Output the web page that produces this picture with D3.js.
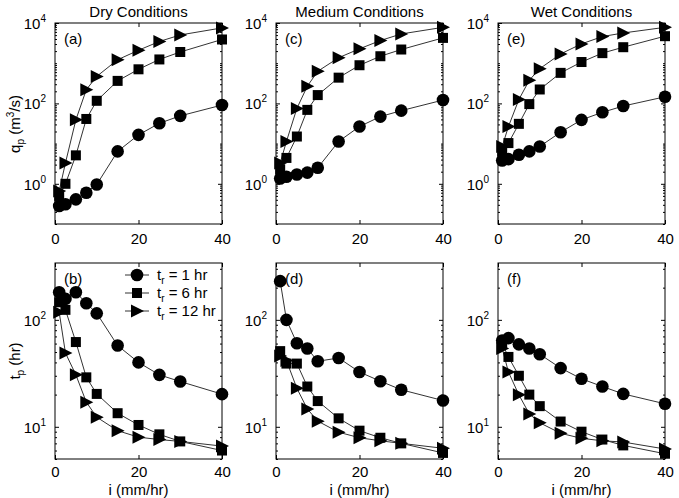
<!DOCTYPE html>
<html><head><meta charset="utf-8">
<script src="https://cdn.jsdelivr.net/npm/d3@7"></script>
<style>
body{margin:0;background:#fff;}
svg{display:block;font-family:"Liberation Sans",Arial,sans-serif;}
</style></head>
<body><svg id="c" width="679" height="498"></svg>
<script>
// ---------- data ----------
const iVals = [1, 2.5, 5, 7.5, 10, 15, 20, 25, 30, 40];
const conditions = ["Dry Conditions", "Medium Conditions", "Wet Conditions"];
const seriesNames = ["t_r = 1 hr", "t_r = 6 hr", "t_r = 12 hr"];
const xTicks = [0, 20, 40];
const qpTicks = [1, 100, 10000];
const tpTicks = [10, 100];
const topLetters = ["(a)", "(c)", "(e)"];
const botLetters = ["(b)", "(d)", "(f)"];

// peak discharge q_p (m3/s)
const qpDry1   = [0.28, 0.31, 0.41, 0.6, 0.96, 6.4, 16.5, 32, 49, 91];
const qpDry6   = [0.5, 1.0, 5.1, 41, 116, 363, 705, 1240, 1900, 3890];
const qpDry12  = [0.66, 3.3, 39, 220, 470, 1220, 2100, 3470, 5040, 7550];
const qpMed1   = [1.35, 1.5, 1.7, 1.9, 2.5, 11.3, 26.6, 47, 66, 121];
const qpMed6   = [2.3, 4.4, 15, 69, 161, 437, 890, 1490, 2190, 4260];
const qpMed12  = [3.3, 11.3, 75, 268, 630, 1370, 2280, 3660, 5340, 7800];
const qpWet1   = [3.8, 4.1, 5.3, 6.4, 8.5, 19.2, 39, 60, 86, 146];
const qpWet6   = [6.4, 10.3, 31, 96, 222, 575, 1070, 1780, 2500, 4700];
const qpWet12  = [8.5, 26.6, 125, 378, 730, 1700, 3020, 4600, 5650, 7800];

// time to peak t_p (hr)
const tpDry1   = [181, 157, 181, 143, 115, 57.5, 40, 30.6, 26.5, 20.2];
const tpDry6   = [146, 124, 62, 29, 20.3, 13.4, 10.4, 8.5, 7.3, 6.0];
const tpDry12  = [118, 49, 30.6, 17, 12.3, 9.2, 8.0, 7.6, 7.3, 6.6];
const tpMed1   = [230, 100, 60.5, 54, 41, 44, 32.5, 26.7, 22.2, 17.6];
const tpMed6   = [51, 39, 39, 23.8, 17.4, 12.0, 9.2, 7.9, 7.0, 5.7];
const tpMed12  = [46, 41.6, 22.9, 14.7, 11.3, 8.9, 7.9, 7.4, 7.0, 6.3];
const tpWet1   = [64, 67.5, 59, 54, 47.7, 35.4, 28.1, 23.8, 20.3, 16.4];
const tpWet6   = [60, 45, 30, 20, 15.6, 11.2, 9.0, 7.6, 6.7, 5.6];
const tpWet12  = [54, 32.5, 19.9, 13.2, 10.9, 8.7, 7.8, 7.4, 7.2, 6.2];

const qpSets = [[qpDry1, qpDry6, qpDry12], [qpMed1, qpMed6, qpMed12], [qpWet1, qpWet6, qpWet12]];
const tpSets = [[tpDry1, tpDry6, tpDry12], [tpMed1, tpMed6, tpMed12], [tpWet1, tpWet6, tpWet12]];

// ---------- layout ----------
const svg = d3.select("#c");
const lefts = [55, 276, 498];
const pw = 167;
const topRow = {y0: 23, y1: 224};
const botRow = {y0: 263, y1: 459};
const FONT = 15;

const markerTypes = ["circle", "square", "triangle"];
function drawMarker(g, type, x, y) {
  if (type === "circle") {
    g.append("circle").attr("cx", x).attr("cy", y).attr("r", 6.3).attr("fill", "#000");
  } else if (type === "square") {
    g.append("rect").attr("x", x - 5).attr("y", y - 5).attr("width", 10).attr("height", 10).attr("fill", "#000");
  } else {
    g.append("path").attr("d", `M${x-6},${y-6.5}L${x+7},${y}L${x-6},${y+6.5}Z`).attr("fill", "#000");
  }
}

function powLabel(sel, exp) {
  sel.text(null);
  sel.append("tspan").text("10");
  sel.append("tspan").attr("dy", -7).attr("font-size", 10).text(exp);
}

function panel(col, row, sets, yDomain, yTicks, letter) {
  const x0 = lefts[col], x1 = x0 + pw;
  const r = row === 0 ? topRow : botRow;
  const x = d3.scaleLinear().domain([0, 40]).range([x0, x1]);
  const y = d3.scaleLog().domain(yDomain).range([r.y1, r.y0]);
  const g = svg.append("g");

  g.append("rect").attr("x", x0).attr("y", r.y0).attr("width", pw).attr("height", r.y1 - r.y0)
    .attr("fill", "none").attr("stroke", "#000").attr("stroke-width", 1);

  const xAxB = d3.axisBottom(x).tickValues(xTicks).tickSize(-4).tickPadding(row === 0 ? 9 : 7).tickFormat(d3.format("d"));
  const gx = g.append("g").attr("transform", `translate(0,${r.y1})`).call(xAxB);
  gx.select(".domain").remove();
  gx.selectAll("text").attr("font-size", FONT).attr("font-family", "Liberation Sans, Arial, sans-serif").attr("fill", "#000");
  const xAxT = d3.axisTop(x).tickValues(xTicks).tickSize(-4).tickFormat("");
  const gxt = g.append("g").attr("transform", `translate(0,${r.y0})`).call(xAxT);
  gxt.select(".domain").remove();

  const minors = y.ticks().filter(v => yTicks.indexOf(v) < 0);
  const yMinL = d3.axisLeft(y).tickValues(minors).tickSize(-2).tickFormat("");
  const gml = g.append("g").attr("transform", `translate(${x0},0)`).call(yMinL);
  gml.select(".domain").remove();
  const yMinR = d3.axisRight(y).tickValues(minors).tickSize(-2).tickFormat("");
  const gmr = g.append("g").attr("transform", `translate(${x1},0)`).call(yMinR);
  gmr.select(".domain").remove();

  const yAxL = d3.axisLeft(y).tickValues(yTicks).tickSize(-4).tickPadding(10).tickFormat("");
  const gy = g.append("g").attr("transform", `translate(${x0},0)`).call(yAxL);
  gy.select(".domain").remove();
  gy.selectAll(".tick").each(function(d) {
    const t = d3.select(this).append("text").attr("x", -9).attr("dy", "0.35em")
      .attr("text-anchor", "end").attr("font-size", FONT).attr("fill", "#000");
    powLabel(t, Math.round(Math.log10(d)));
  });
  const yAxR = d3.axisRight(y).tickValues(yTicks).tickSize(-4).tickFormat("");
  const gyr = g.append("g").attr("transform", `translate(${x1},0)`).call(yAxR);
  gyr.select(".domain").remove();
  g.selectAll(".tick line").attr("stroke", "#000");

  const line = d3.line().x((d, k) => x(iVals[k])).y(d => y(d));
  sets.forEach((vals) => {
    g.append("path").datum(vals).attr("d", line).attr("fill", "none")
      .attr("stroke", "#333").attr("stroke-width", 1);
  });
  sets.forEach((vals, s) => {
    vals.forEach((v, k) => drawMarker(g, markerTypes[s], x(iVals[k]), y(v)));
  });

  g.append("text").attr("x", x0 + 9).attr("y", r.y0 + 21).attr("font-size", FONT).attr("fill", "#000").text(letter);
  return {x, y};
}

for (let c = 0; c < 3; c++) {
  panel(c, 0, qpSets[c], [0.1, 10000], qpTicks, topLetters[c]);
  panel(c, 1, tpSets[c], [5, 340], tpTicks, botLetters[c]);
  svg.append("text").attr("x", lefts[c] + pw / 2).attr("y", 17).attr("text-anchor", "middle")
    .attr("font-size", FONT).attr("fill", "#000").text(conditions[c]);
  svg.append("text").attr("x", lefts[c] + pw / 2).attr("y", 495).attr("text-anchor", "middle")
    .attr("font-size", FONT).attr("fill", "#000").text("i (mm/hr)");
}

const qt = svg.append("text").attr("transform", "translate(20,124) rotate(-90)").attr("text-anchor", "middle")
  .attr("font-size", FONT).attr("fill", "#000");
qt.append("tspan").text("q");
qt.append("tspan").attr("dy", 4).attr("font-size", 10).text("p");
qt.append("tspan").attr("dy", -4).text(" (m");
qt.append("tspan").attr("dy", -6).attr("font-size", 10).text("3");
qt.append("tspan").attr("dy", 6).text("/s)");

const tt = svg.append("text").attr("transform", "translate(20,361) rotate(-90)").attr("text-anchor", "middle")
  .attr("font-size", FONT).attr("fill", "#000");
tt.append("tspan").text("t");
tt.append("tspan").attr("dy", 4).attr("font-size", 10).text("p");
tt.append("tspan").attr("dy", -4).text(" (hr)");

const lg = svg.append("g");
seriesNames.forEach((name, s) => {
  const ly = 275 + s * 18;
  lg.append("line").attr("x1", 125).attr("x2", 149).attr("y1", ly).attr("y2", ly).attr("stroke", "#333");
  drawMarker(lg, markerTypes[s], 137, ly);
  const parts = name.split("_r");
  const t = lg.append("text").attr("x", 157).attr("y", ly + 5).attr("font-size", FONT).attr("fill", "#000");
  t.append("tspan").text("t");
  t.append("tspan").attr("dy", 4).attr("font-size", 10).text("r");
  t.append("tspan").attr("dy", -4).text(parts[1]);
});
</script></body></html>
